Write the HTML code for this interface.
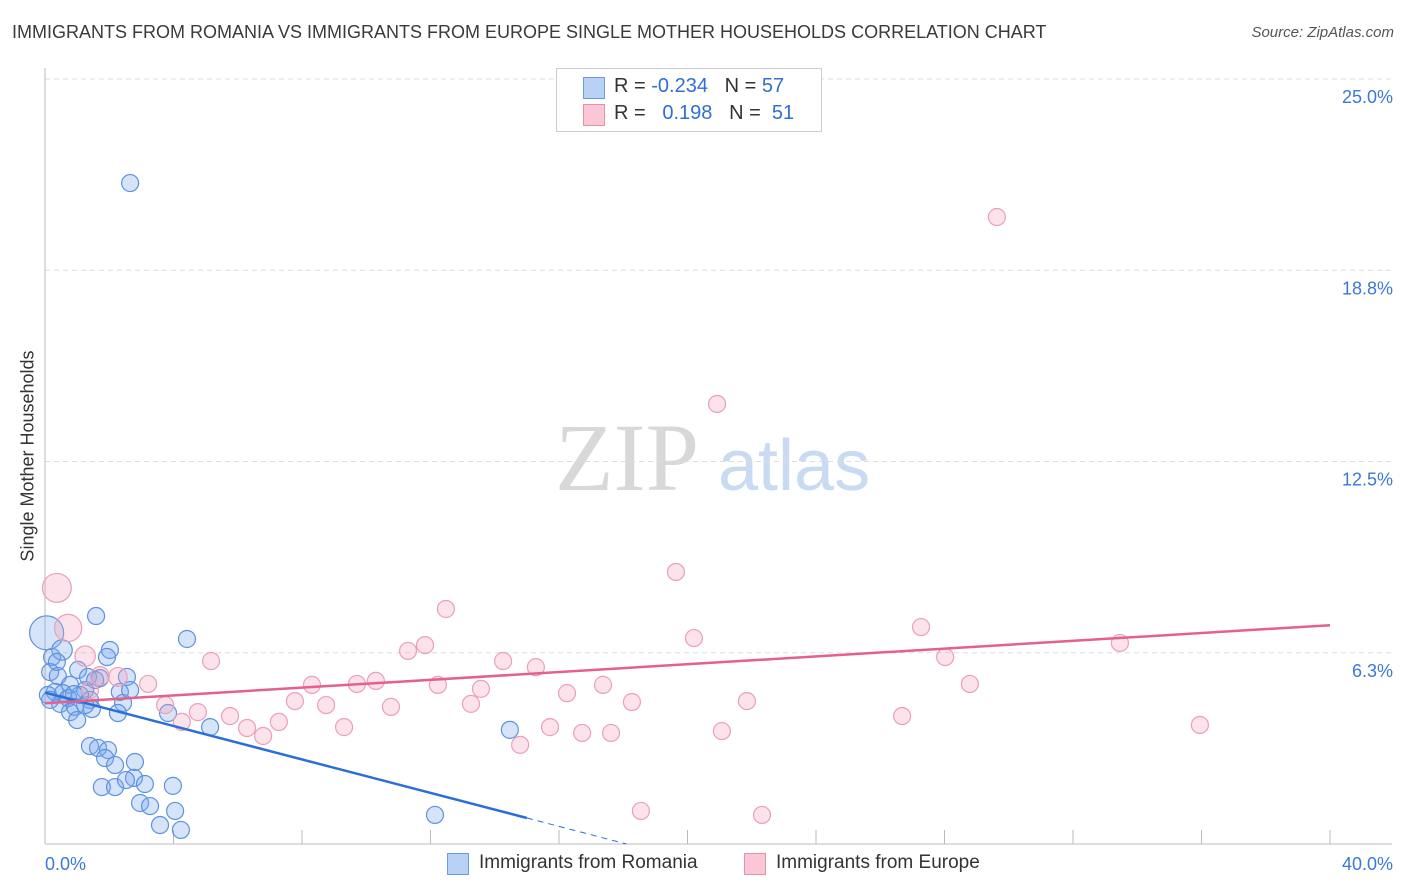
<!DOCTYPE html>
<html><head><meta charset="utf-8"><style>
body{margin:0;background:#fff;font-family:"Liberation Sans",sans-serif;}
#wrap{position:relative;width:1406px;height:892px;overflow:hidden;}
.t{position:absolute;white-space:nowrap;}
</style></head><body>
<div id="wrap">
<div class="t" style="left:12px;top:22px;font-size:18px;color:#3a3a3a;">IMMIGRANTS FROM ROMANIA VS IMMIGRANTS FROM EUROPE SINGLE MOTHER HOUSEHOLDS CORRELATION CHART</div>
<div class="t" style="right:12px;top:24px;font-size:15px;color:#555;font-style:italic;">Source: ZipAtlas.com</div>
<div class="t" style="left:28px;top:456px;font-size:18px;color:#333;transform:translate(-50%,-50%) rotate(-90deg);">Single Mother Households</div>
<svg id="svg" width="1406" height="892" style="position:absolute;left:0;top:0"></svg>
<div style="position:absolute;left:556px;top:68px;width:264px;height:62px;border:1px solid #ccc;background:#fff;">
 <div style="position:absolute;left:26px;top:8px;width:20px;height:20px;background:#b8d1f5;border:1px solid #6a9be0;"></div>
 <div class="t" style="left:57px;top:6px;font-size:20px;color:#333;">R = <span style="color:#2f6fd4">-0.234</span>&nbsp;&nbsp;&nbsp;N = <span style="color:#2f6fd4">57</span></div>
 <div style="position:absolute;left:26px;top:35px;width:20px;height:20px;background:#f9c7d5;border:1px solid #e88faa;"></div>
 <div class="t" style="left:57px;top:33px;font-size:20px;color:#333;">R = &nbsp;&nbsp;<span style="color:#2f6fd4">0.198</span>&nbsp;&nbsp;&nbsp;N = &nbsp;<span style="color:#2f6fd4">51</span></div>
</div>
<div style="position:absolute;left:447px;top:853px;">
 <div style="position:absolute;left:0;top:0;width:20px;height:20px;background:#b8d1f5;border:1px solid #6a9be0;"></div>
 <div class="t" style="left:32px;top:-1px;font-size:19px;color:#333;">Immigrants from Romania</div></div>
<div style="position:absolute;left:744px;top:853px;">
 <div style="position:absolute;left:0;top:0;width:20px;height:20px;background:#f9c7d5;border:1px solid #e88faa;"></div>
 <div class="t" style="left:32px;top:-1px;font-size:19px;color:#333;">Immigrants from Europe</div></div>
</div>
<script>
const yTicks=[25,18.75,12.5,6.25];
const yTickLabels=["25.0%","18.8%","12.5%","6.3%"];
const xTickLabels=["0.0%","40.0%"];
const romaniaX=[2.65,1.59,4.42,2.02,1.93,0.22,0.16,0.40,1.03,2.55,1.34,0.78,1.71,0.31,0.56,0.09,1.25,2.33,0.72,1.40,2.43,0.47,0.93,1.46,2.27,3.83,0.78,1.00,5.14,14.47,1.40,1.65,1.96,2.80,1.87,2.18,2.77,1.77,2.18,2.52,3.11,3.98,2.96,3.27,4.05,3.58,4.23,12.14,0.05,0.53,0.37,0.16,1.25,1.56,2.65,1.09,0.9];
const romaniaY=[21.6,7.45,6.70,6.34,6.11,6.11,5.62,5.49,5.69,5.46,5.46,5.20,5.42,4.97,4.93,4.87,5.03,4.97,4.77,4.71,4.61,4.58,4.48,4.41,4.28,4.28,4.31,4.05,3.82,3.73,3.20,3.14,3.07,2.68,2.81,2.58,2.16,1.86,1.86,2.09,1.96,1.90,1.34,1.24,1.08,0.62,0.46,0.95,6.9,6.34,5.95,4.71,4.54,5.36,5.03,4.87,4.9];
const romaniaSize=[1,1,1,1,1,1,1,1,1,1,1,1,1,1,1,1,1,1,1,1,1,1,1,1,1,1,1,1,1,1,1,1,1,1,1,1,1,1,1,1,1,1,1,1,1,1,1,1,2,1.2,1,1,1,1,1,1,1];
const europeX=[0.37,0.72,1.25,1.71,2.27,3.21,3.74,4.26,4.76,5.17,5.76,6.29,6.79,7.28,7.78,8.31,8.75,9.31,9.71,10.30,10.77,11.30,11.83,12.23,12.48,13.26,13.57,14.26,14.79,15.28,15.72,16.25,16.72,17.37,17.62,18.27,18.55,19.64,20.20,20.92,21.07,21.85,22.32,26.68,27.27,28.02,28.79,29.63,33.46,35.95,1.40];
const europeY=[8.37,7.06,6.14,5.49,5.46,5.23,4.54,3.99,4.31,5.98,4.18,3.79,3.53,3.99,4.67,5.20,4.54,3.82,5.23,5.33,4.48,6.31,6.50,5.20,7.68,4.58,5.07,5.98,3.24,5.78,3.82,4.93,3.63,5.20,3.63,4.64,1.08,8.89,6.73,14.38,3.69,4.67,0.95,4.18,7.09,6.11,5.23,20.49,6.57,3.89,5.03];
const europeSize=[1.7,1.6,1.2,1.1,1.1,1,1,1,1,1,1,1,1,1,1,1,1,1,1,1,1,1,1,1,1,1,1,1,1,1,1,1,1,1,1,1,1,1,1,1,1,1,1,1,1,1,1,1,1,1,1];
const romaniaTrend=[[0,4.95],[15,0.85],[18.1,0]];
const europeTrend=[[0,4.6],[40,7.15]];
const X0=45,X1=1330,Y0=844,Y1=79;
const xs=v=>X0+v/40*(X1-X0);
const ys=v=>Y0-v/25*(Y0-Y1);
const svg=document.getElementById('svg');const NS='http://www.w3.org/2000/svg';
function mk(t,a){const e=document.createElementNS(NS,t);for(const k in a)e.setAttribute(k,a[k]);svg.appendChild(e);return e;}
// watermark
let w=mk('text',{x:555,y:490,'font-size':96,'font-family':'Liberation Serif,serif',fill:'#d8d8d8'});w.textContent='ZIP';


let w2=mk('text',{x:718,y:490,'font-size':72,'font-family':'Liberation Sans,sans-serif',fill:'#c9daf3'});w2.textContent='atlas';


yTicks.forEach((v,i)=>{
 const l=mk('line',{x1:X0,x2:1392,y1:ys(v),y2:ys(v),stroke:'#ddd','stroke-dasharray':'5,4'});
 
 
 const t=mk('text',{x:1393,y:ys(v)+24,'text-anchor':'end','font-size':18,fill:'#3b78d8','font-family':'Liberation Sans,sans-serif'});t.textContent=yTickLabels[i];
 
 
});
for(let i=0;i<=10;i++){const l=mk('line',{x1:xs(i*4),x2:xs(i*4),y1:Y0-14,y2:Y0,stroke:'#bbb'});
 
 }
let ax=mk('line',{x1:X0,x2:X0,y1:68,y2:Y0,stroke:'#bbb'});


let bx=mk('line',{x1:X0,x2:1392,y1:Y0,y2:Y0,stroke:'#bbb'});


[[0,45,'start'],[1,1393,'end']].forEach(([i,x,a])=>{const t=mk('text',{x:x,y:870,'text-anchor':a,'font-size':18,fill:'#3b78d8','font-family':'Liberation Sans,sans-serif'});t.textContent=xTickLabels[i];
 
 });
romaniaX.forEach((v,i)=>{const c=mk('circle',{cx:xs(v),cy:ys(romaniaY[i]),r:8.5*romaniaSize[i],fill:'rgba(120,165,235,0.3)',stroke:'#5e92e0','stroke-width':1.2});
 
 });
europeX.forEach((v,i)=>{const c=mk('circle',{cx:xs(v),cy:ys(europeY[i]),r:8.5*europeSize[i],fill:'rgba(245,160,185,0.3)',stroke:'#eaa0b8','stroke-width':1.2});
 
 });
let r1=mk('line',{x1:xs(romaniaTrend[0][0]),y1:ys(romaniaTrend[0][1]),x2:xs(romaniaTrend[1][0]),y2:ys(romaniaTrend[1][1]),stroke:'#2a6fd8','stroke-width':2.5});


let r2=mk('line',{x1:xs(romaniaTrend[1][0]),y1:ys(romaniaTrend[1][1]),x2:xs(romaniaTrend[2][0]),y2:ys(romaniaTrend[2][1]),stroke:'#2a6fd8','stroke-width':1,'stroke-dasharray':'6,5'});


let e1=mk('line',{x1:xs(europeTrend[0][0]),y1:ys(europeTrend[0][1]),x2:xs(europeTrend[1][0]),y2:ys(europeTrend[1][1]),stroke:'#e5608a','stroke-width':2.5});


</script>
</body></html>
